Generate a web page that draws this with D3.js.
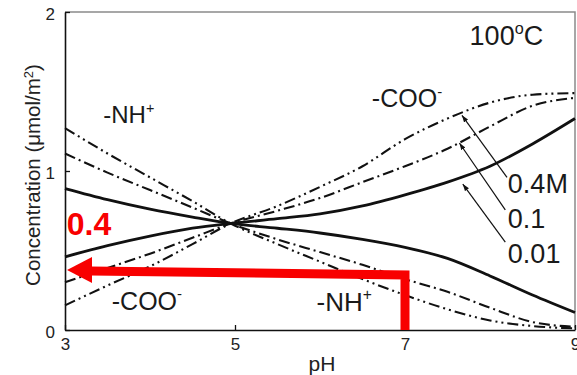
<!DOCTYPE html>
<html>
<head>
<meta charset="utf-8">
<script src="https://cdn.jsdelivr.net/npm/d3@7"></script>
<style>
  body { margin: 0; background: #fff; }
  svg { display: block; font-family: "Liberation Sans", Arial, sans-serif; }
</style>
</head>
<body>
<div id="chart"></div>
<script>
// pH grid, all curves cross near pH 4.95
const pH = [3, 3.5, 4, 4.5, 4.95, 5.5, 6, 6.5, 7, 7.5, 8, 8.5, 9];

// 0.01 M (solid)
const nh001  = [0.89, 0.82, 0.76, 0.71, 0.67, 0.64, 0.61, 0.57, 0.52, 0.45, 0.34, 0.22, 0.11];
const coo001 = [0.46, 0.53, 0.59, 0.64, 0.67, 0.70, 0.73, 0.78, 0.85, 0.93, 1.03, 1.17, 1.33];
// 0.1 M (dash-dot)
const nh01   = [1.11, 0.99, 0.88, 0.77, 0.67, 0.57, 0.49, 0.41, 0.32, 0.24, 0.14, 0.05, 0.02];
const coo01  = [0.30, 0.39, 0.48, 0.58, 0.67, 0.75, 0.83, 0.93, 1.03, 1.14, 1.28, 1.41, 1.46];
// 0.4 M (dash-dot-dot)
const nh04   = [1.27, 1.11, 0.96, 0.81, 0.67, 0.54, 0.43, 0.32, 0.22, 0.13, 0.06, 0.025, 0.01];
const coo04  = [0.155, 0.28, 0.40, 0.54, 0.67, 0.78, 0.90, 1.03, 1.20, 1.33, 1.43, 1.48, 1.49];

const yTicks = [0, 1, 2];
const xTicks = [3, 5, 7, 9];

const width = 577, height = 375;
const x = d3.scaleLinear().domain([3, 9]).range([65, 575]);
const y = d3.scaleLinear().domain([0, 2]).range([330, 12]);

const svg = d3.select("#chart").append("svg")
    .attr("width", width)
    .attr("height", height);

svg.append("defs").append("marker")
    .attr("id", "head")
    .attr("viewBox", "0 0 10 10")
    .attr("refX", 10).attr("refY", 5)
    .attr("markerWidth", 7).attr("markerHeight", 7)
    .attr("markerUnits", "userSpaceOnUse")
    .attr("orient", "auto")
  .append("path")
    .attr("d", "M0,1.5L10,5L0,8.5Z")
    .attr("fill", "#111");

// top + right frame (grey)
svg.append("path")
    .attr("d", `M${x(3)},${y(2)}H${x(9)}V${y(0)}`)
    .attr("fill", "none")
    .attr("stroke", "#8a8a8a")
    .attr("stroke-width", 1.5);

const yAxis = svg.append("g")
    .attr("transform", `translate(${x(3)},0)`)
    .call(d3.axisLeft(y).tickValues(yTicks).tickFormat(d3.format("d"))
        .tickSize(-5).tickSizeOuter(0).tickPadding(10));

const xAxis = svg.append("g")
    .attr("transform", `translate(0,${y(0)})`)
    .call(d3.axisBottom(x).tickValues(xTicks).tickFormat(d3.format("d"))
        .tickSize(-5).tickSizeOuter(0).tickPadding(8));

[yAxis, xAxis].forEach(g => {
    g.select(".domain").attr("stroke", "#111").attr("stroke-width", 1.6);
    g.selectAll(".tick line").attr("stroke", "#111").attr("stroke-width", 1.3);
    g.selectAll(".tick text").attr("fill", "#222")
        .style("font-size", "17px")
        .style("font-family", '"Liberation Sans", Arial, sans-serif');
});
yAxis.selectAll(".tick text").attr("dy", "0.45em");

svg.append("text")
    .attr("transform", `translate(40,${(y(0) + y(2)) / 2 + 4}) rotate(-90)`)
    .attr("text-anchor", "middle")
    .attr("fill", "#222")
    .style("font-size", "20.5px")
    .text("Concentration (μmol/m")
  .append("tspan").attr("baseline-shift", "super").style("font-size", "13px").text("2")
  .select(function() { return this.parentNode; })
  .append("tspan").text(")");

svg.append("text")
    .attr("x", (x(3) + x(9)) / 2 + 2)
    .attr("y", 371)
    .attr("text-anchor", "middle")
    .attr("fill", "#222")
    .style("font-size", "21px")
    .text("pH");

// curves
const series = [
    { values: nh04,  dash: "11,4,2,4,2,4", w: 2.1 },
    { values: coo04, dash: "11,4,2,4,2,4", w: 2.1 },
    { values: nh01,  dash: "11,4,2,4",     w: 2.1 },
    { values: coo01, dash: "11,4,2,4",     w: 2.1 },
    { values: nh001,  dash: null, w: 2.8 },
    { values: coo001, dash: null, w: 2.8 }
];

const line = d3.line()
    .x(d => x(d[0]))
    .y(d => y(d[1]))
    .curve(d3.curveMonotoneX);

svg.append("g")
    .selectAll("path")
    .data(series)
    .enter().append("path")
    .attr("d", s => line(pH.map((p, i) => [p, s.values[i]])))
    .attr("fill", "none")
    .attr("stroke", "#111")
    .attr("stroke-width", s => s.w)
    .attr("stroke-dasharray", s => s.dash);

// text labels with superscripts
const labels = [
    { pH: 3.45, v: 1.30,  main: "-NH", sup: "+", size: 24 },
    { pH: 6.61, v: 1.40,  main: "-COO", sup: "-", size: 25 },
    { pH: 3.55, v: 0.126, main: "-COO", sup: "-", size: 25 },
    { pH: 5.96, v: 0.12,  main: "-NH", sup: "+", size: 26 },
    { pH: 7.76, v: 1.79,  main: "100", sup: "o", size: 27, tail: "C" },
    { pH: 8.21, v: 0.86,  main: "0.4M", size: 27 },
    { pH: 8.21, v: 0.64,  main: "0.1", size: 27 },
    { pH: 8.21, v: 0.42,  main: "0.01", size: 27 }
];

labels.forEach(l => {
    const t = svg.append("text")
        .attr("x", x(l.pH))
        .attr("y", y(l.v))
        .attr("fill", "#1a1a1a")
        .style("font-size", l.size + "px")
        .text(l.main);
    if (l.sup) {
        t.append("tspan")
            .attr("dy", -l.size * 0.42)
            .style("font-size", (l.size * 0.6) + "px")
            .text(l.sup);
    }
    if (l.tail) {
        t.append("tspan")
            .attr("dy", l.size * 0.42)
            .text(l.tail);
    }
});

// thin pointer arrows from concentration labels
const pointers = [
    { from: [8.20, 0.96],  to: [7.67, 1.35] },
    { from: [8.18, 0.755], to: [7.64, 1.176] },
    { from: [8.18, 0.553], to: [7.68, 0.918] }
];

svg.append("g")
    .selectAll("line")
    .data(pointers)
    .enter().append("line")
    .attr("x1", d => x(d.from[0])).attr("y1", d => y(d.from[1]))
    .attr("x2", d => x(d.to[0])).attr("y2", d => y(d.to[1]))
    .attr("stroke", "#111")
    .attr("stroke-width", 1.2)
    .attr("marker-end", "url(#head)");

// red overlay arrow
const redPath = [[7, 0], [7, 0.346], [3.3, 0.371]];
svg.append("path")
    .attr("d", d3.line().x(d => x(d[0])).y(d => y(d[1]))(redPath))
    .attr("fill", "none")
    .attr("stroke", "#f80000")
    .attr("stroke-width", 9)
    .attr("stroke-linejoin", "miter");

const redHead = [[3.024, 0.377], [3.318, 0.459], [3.318, 0.296]];
svg.append("path")
    .attr("d", d3.line().x(d => x(d[0])).y(d => y(d[1]))(redHead) + "Z")
    .attr("fill", "#f80000");

svg.append("text")
    .attr("x", x(3.02))
    .attr("y", y(0.60))
    .attr("fill", "#f80000")
    .style("font-size", "32px")
    .style("font-weight", "bold")
    .text("0.4");
</script>
</body>
</html>
